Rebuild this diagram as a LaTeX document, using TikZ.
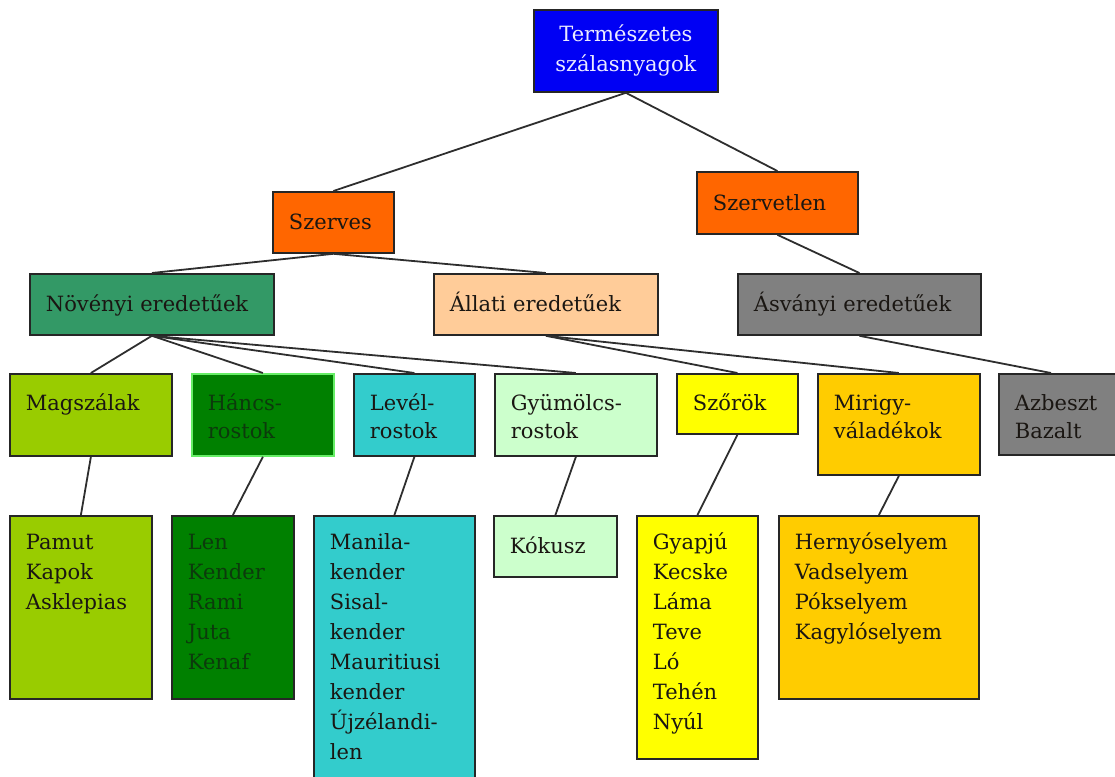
\documentclass[tikz,border=0pt]{standalone}
\usepackage{fontspec}
\setmainfont{DejaVu Serif}
\definecolor{rootblue}{HTML}{0000F4}
\definecolor{orangebox}{HTML}{FF6600}
\definecolor{plantgreen}{HTML}{339966}
\definecolor{peach}{HTML}{FFCC99}
\definecolor{stonegray}{HTML}{808080}
\definecolor{seedgreen}{HTML}{99CC00}
\definecolor{bastgreen}{HTML}{008000}
\definecolor{bastedge}{HTML}{66EE66}
\definecolor{leafteal}{HTML}{33CCCC}
\definecolor{fruitmint}{HTML}{CCFFCC}
\definecolor{hairyellow}{HTML}{FFFF00}
\definecolor{glandamber}{HTML}{FFCC00}
\definecolor{inktext}{HTML}{1A1612}
\definecolor{darkleaf}{HTML}{0C3A0C}
\definecolor{linkgray}{HTML}{2E2E2E}
\begin{document}
\begin{tikzpicture}[x=1pt,y=1pt,
  box/.style={draw=black!85, line width=1.8pt, inner xsep=16pt, align=left,
    anchor=north west, text=inktext, font=\fontsize{21}{30}\selectfont},
  tag/.style 2 args={box, text width=#1, minimum height=#2, inner ysep=0pt,
    text height=15pt, text depth=0pt},
  cell/.style 2 args={box, text width=#1, inner ysep=10pt, text height=24pt,
    text depth=#2},
  upper/.style={text height=27pt, font=\fontsize{21}{28}\selectfont},
  link/.style={draw=linkgray, line width=1.8pt}]
\useasboundingbox (0,0) rectangle (1115,-776);
\clip (0,0) rectangle (1115,-776);
\node [box, fill=rootblue, text=white!92!blue, align=center, text width=152pt,
  minimum height=82pt] (root) at (533,-9) {Természetes\\szálasnyagok};
\node [tag={89pt}{61pt}, fill=orangebox] (szerves) at (272,-191) {Szerves};
\node [tag={129pt}{62pt}, fill=orangebox] (szervetlen) at (696,-171) {Szervetlen};
\node [tag={212pt}{61pt}, fill=plantgreen] (novenyi) at (29,-273) {Növényi eredetűek};
\node [tag={192pt}{61pt}, fill=peach] (allati) at (433,-273) {Állati eredetűek};
\node [tag={211pt}{61pt}, fill=stonegray] (asvanyi) at (737,-273) {Ásványi eredetűek};
\node [cell={130pt}{35pt}, upper, fill=seedgreen] (magszal) at (9,-373) {Magszálak};
\node [cell={110pt}{35pt}, upper, fill=bastgreen, draw=bastedge, text=darkleaf] (hancs) at (191,-373) {Háncs-\\rostok};
\node [cell={89pt}{35pt}, upper, fill=leafteal] (level) at (353,-373) {Levél-\\rostok};
\node [cell={130pt}{35pt}, upper, fill=fruitmint] (gyumolcs) at (494,-373) {Gyümölcs-\\rostok};
\node [cell={89pt}{13pt}, upper, fill=hairyellow] (szorok) at (676,-373) {Szőrök};
\node [cell={130pt}{54pt}, upper, fill=glandamber] (mirigy) at (817,-373) {Mirigy-\\váladékok};
\node [cell={108pt}{34pt}, upper, fill=stonegray] (azbeszt) at (998,-373) {Azbeszt\\Bazalt};
\node [cell={110pt}{139pt}, fill=seedgreen] (pamut) at (9,-515) {Pamut\\Kapok\\Asklepias};
\node [cell={90pt}{139pt}, fill=bastgreen, text=darkleaf] (len) at (171,-515) {Len\\Kender\\Rami\\Juta\\Kenaf};
\node [cell={129pt}{236pt}, fill=leafteal] (manila) at (313,-515) {Manila-\\kender\\Sisal-\\kender\\Mauritiusi\\kender\\Újzélandi-\\len};
\node [tag={91pt}{61pt}, fill=fruitmint] (kokusz) at (493,-515) {Kókusz};
\node [cell={89pt}{199pt}, fill=hairyellow] (gyapju) at (636,-515) {Gyapjú\\Kecske\\Láma\\Teve\\Ló\\Tehén\\Nyúl};
\node [cell={168pt}{139pt}, fill=glandamber] (hernyo) at (778,-515) {Hernyóselyem\\Vadselyem\\Pókselyem\\Kagylóselyem};
\draw [link] (root.south) -- (szerves.north);
\draw [link] (root.south) -- (szervetlen.north);
\draw [link] (szerves.south) -- (novenyi.north);
\draw [link] (szerves.south) -- (allati.north);
\draw [link] (szervetlen.south) -- (asvanyi.north);
\draw [link] (novenyi.south) -- (magszal.north);
\draw [link] (novenyi.south) -- (hancs.north);
\draw [link] (novenyi.south) -- (level.north);
\draw [link] (novenyi.south) -- (gyumolcs.north);
\draw [link] (allati.south) -- (szorok.north);
\draw [link] (allati.south) -- (mirigy.north);
\draw [link] (asvanyi.south) -- ([xshift=53pt]azbeszt.north west);
\draw [link] (magszal.south) -- (pamut.north);
\draw [link] (hancs.south) -- (len.north);
\draw [link] (level.south) -- (manila.north);
\draw [link] (gyumolcs.south) -- (kokusz.north);
\draw [link] (szorok.south) -- (gyapju.north);
\draw [link] (mirigy.south) -- (hernyo.north);
\end{tikzpicture}
\end{document}
